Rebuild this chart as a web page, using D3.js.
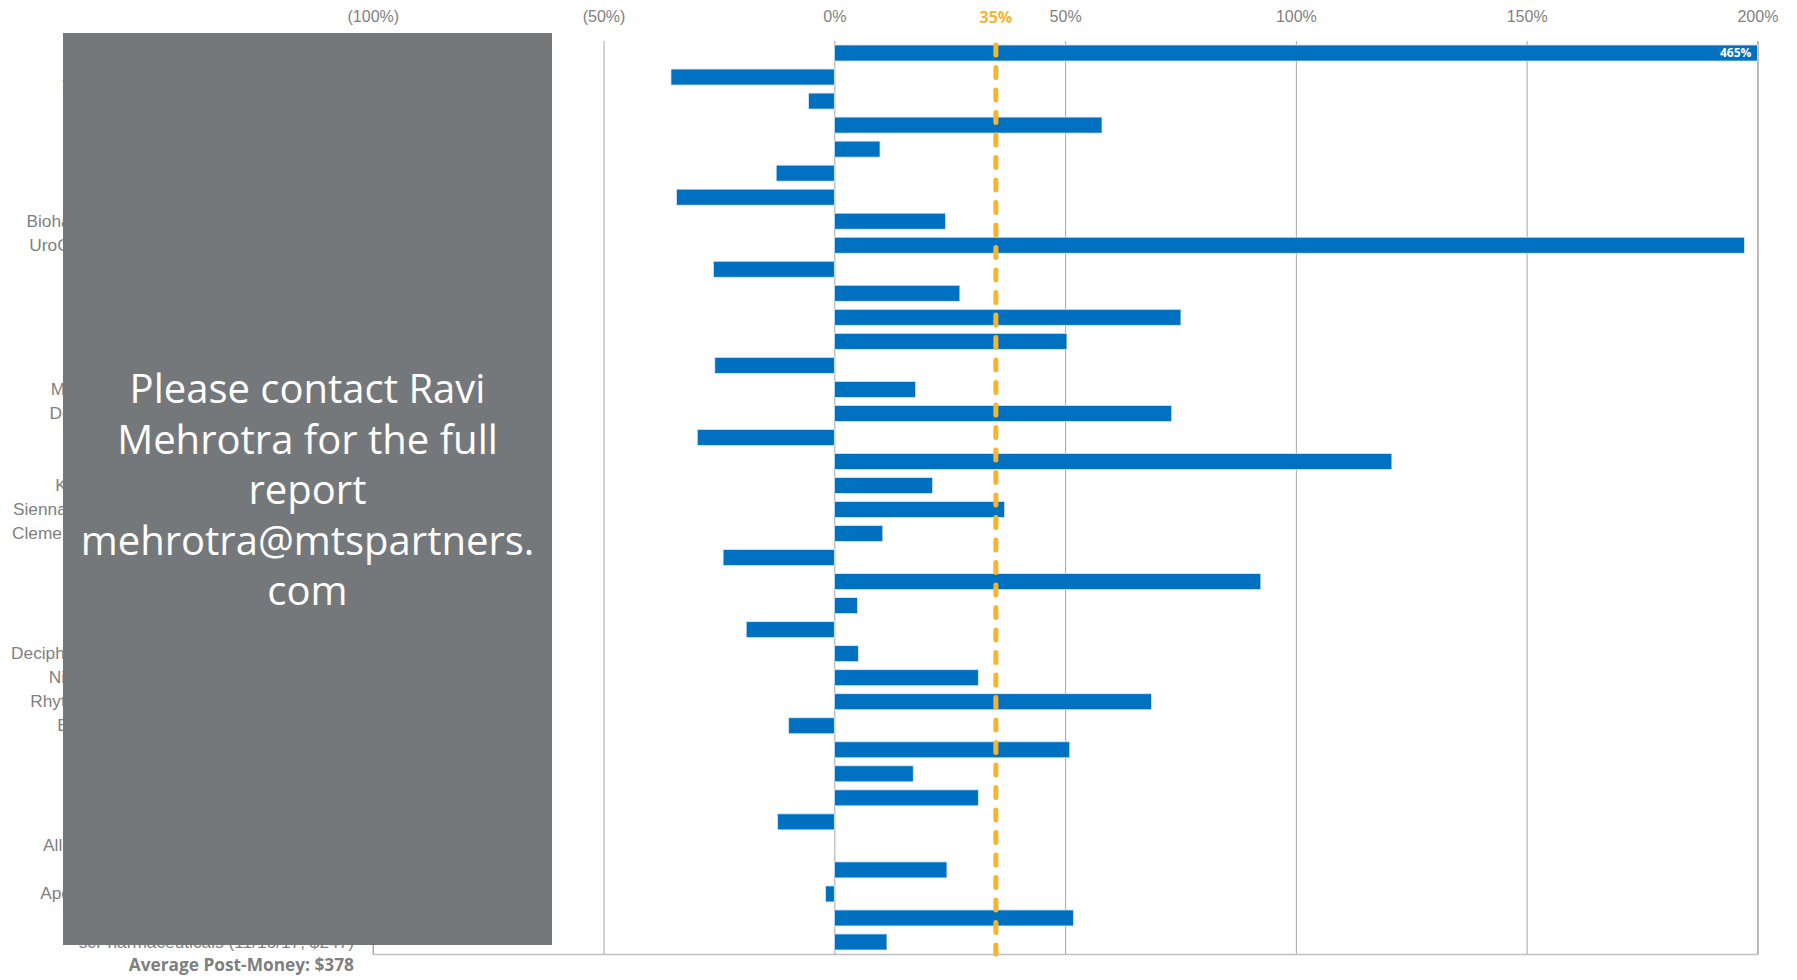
<!DOCTYPE html>
<html>
<head>
<meta charset="utf-8">
<script src="https://cdn.jsdelivr.net/npm/d3@7.9.0/dist/d3.min.js"></script>
<style>
  html, body { margin: 0; padding: 0; background: #fff; }
  svg { display: block; font-family: "Segoe UI", "Open Sans", sans-serif; }
</style>
</head>
<body>
<svg id="chart" width="1797" height="980"></svg>
<script>
// deals, top to bottom
const companies = [
  'AnaptysBio (01/26/17, $358)',
  'Jounce Therapeutics (01/27/17, $447)',
  'ObsEva (01/26/17, $344)',
  'BeyondSpring (03/09/17, $276)',
  'Tocagen (04/13/17, $243)',
  'Zymeworks (04/28/17, $461)',
  'Savara (04/28/17, $205)',
  'Biohaven Pharmaceutical (05/04/17, $705)',
  'UroGen Pharmaceuticals (05/04/17, $331)',
  'Ovid Therapeutics (05/05/17, $283)',
  'G1 Therapeutics (05/17/17, $399)',
  'Athenex (06/14/17, $805)',
  'Aerpio (06/22/17, $210)',
  'Tyme (06/23/17, $188)',
  'Mersana Therapeutics (06/28/17, $413)',
  'Dova Pharmaceuticals (06/29/17, $436)',
  'Aileron Therapeutics (06/29/17, $211)',
  'Akcea (07/14/17, $1,412)',
  'Kala Pharmaceuticals (07/20/17, $345)',
  'Sienna Biopharmaceuticals (07/27/17, $470)',
  'Clementia Pharmaceuticals (08/03/17, $434)',
  'Calyxt (07/20/17, $371)',
  'Zai Lab (09/20/17, $829)',
  'Celcuity (09/20/17, $172)',
  'Restoration (07/27/17, $131)',
  'Deciphera Pharmaceuticals (09/28/17, $668)',
  'Nightstar Therapeutics (09/28/17, $479)',
  'Rhythm Pharmaceuticals (10/05/17, $673)',
  'Eloxx Pharmaceuticals (10/12/17, $65)',
  'OptiNose (10/13/17, $734)',
  'Krystal (10/20/17, $152)',
  'InflaRx (11/08/17, $411)',
  'Spero (11/02/17, $222)',
  'Allena Pharmaceuticals (11/02/17, $290)',
  'Evoqua (11/02/17, $198)',
  'Apellis Pharmaceuticals (11/09/17, $777)',
  'Arsanis (11/16/17, $183)',
  'scPharmaceuticals (11/16/17, $247)'
];

// return since IPO (fraction)
const returns = [
  4.65, -0.354, -0.056, 0.580, 0.099, -0.126, -0.342, 0.241, 1.972, -0.262,
  0.272, 0.751, 0.504, -0.259, 0.176, 0.731, -0.297, 1.208, 0.213, 0.369,
  0.105, -0.241, 0.924, 0.050, -0.191, 0.052, 0.312, 0.687, -0.099, 0.510,
  0.171, 0.312, -0.123, 0.0, 0.244, -0.019, 0.518, 0.114
];

const tickValues = [-1, -0.5, 0, 0.5, 1, 1.5, 2];
const averageReturn = 0.35;
const averagePostMoney = 'Average Post-Money: $378';
const noticeLines = ['Please contact Ravi', 'Mehrotra for the full', 'report', 'mehrotra@mtspartners.', 'com'];

const svg = d3.select('#chart');
const plotTop = 41, plotBottom = 954, labelRight = 354;

const x = d3.scaleLinear().domain([-1, 2]).range([372.8, 1757.4]).clamp(true);
const y = d3.scaleBand().domain(companies).range([plotTop, plotBottom]).paddingInner(1 / 3).paddingOuter(1 / 6);

const pct = (v) => v < 0 ? `(${Math.round(-v * 100)}%)` : `${Math.round(v * 100)}%`;

// gridlines + bottom axis
const grid = svg.append('g')
  .attr('transform', `translate(0,${plotBottom})`)
  .call(d3.axisBottom(x).tickValues(tickValues).tickSize(-(plotBottom - plotTop)).tickFormat(''));
grid.select('.domain').attr('stroke', '#bfbfbf').attr('stroke-width', 1.5);
grid.selectAll('.tick line').attr('stroke', '#a6a6a6');

// top tick labels
const topAxis = svg.append('g')
  .attr('transform', 'translate(0,22)')
  .call(d3.axisTop(x).tickValues(tickValues).tickSize(0).tickPadding(0).tickFormat(pct));
topAxis.select('.domain').remove();
topAxis.selectAll('text').attr('fill', '#7f7f7f').attr('font-size', 16).attr('dy', 0);

// bars
svg.append('g').selectAll('rect')
  .data(returns)
  .join('rect')
  .attr('x', (d) => x(Math.min(0, d)))
  .attr('y', (d, i) => y(companies[i]))
  .attr('width', (d) => Math.abs(x(d) - x(0)))
  .attr('height', y.bandwidth())
  .attr('fill', '#0070c0')
  .attr('stroke', '#dce9f6')
  .attr('stroke-width', 0.8);

// labels for bars past the axis end
svg.append('g').selectAll('text')
  .data(returns.map((v, i) => ({ v, i })).filter((d) => d.v > x.domain()[1]))
  .join('text')
  .attr('x', x(x.domain()[1]) - 6)
  .attr('y', (d) => y(companies[d.i]) + y.bandwidth() / 2)
  .attr('dy', '0.35em')
  .attr('text-anchor', 'end')
  .attr('fill', '#fff')
  .attr('font-size', 12)
  .attr('font-weight', 'bold')
  .text((d) => pct(d.v));

// average line
svg.append('line')
  .attr('x1', x(averageReturn)).attr('x2', x(averageReturn))
  .attr('y1', plotTop + 4).attr('y2', plotBottom)
  .attr('stroke', '#f7b52c')
  .attr('stroke-width', 5)
  .attr('stroke-linecap', 'round')
  .attr('stroke-dasharray', '10,12.5');
svg.append('text')
  .attr('x', x(averageReturn)).attr('y', 23)
  .attr('text-anchor', 'middle')
  .attr('fill', '#f7b52c')
  .attr('font-size', 16)
  .attr('font-weight', 'bold')
  .text(pct(averageReturn));

// company labels
const left = svg.append('g')
  .attr('transform', `translate(${labelRight},0)`)
  .call(d3.axisLeft(y).tickSize(0).tickPadding(0));
left.select('.domain').remove();
left.selectAll('text').attr('fill', '#7f7f7f').attr('font-size', 17.3);

svg.append('text')
  .attr('x', labelRight).attr('y', 971)
  .attr('text-anchor', 'end')
  .attr('fill', '#7f7f7f')
  .attr('font-size', 17.3)
  .attr('font-weight', 'bold')
  .text(averagePostMoney);

// grey notice box
svg.append('rect')
  .attr('x', 63).attr('y', 33).attr('width', 489).attr('height', 912)
  .attr('fill', '#75787b');
svg.append('text')
  .attr('text-anchor', 'middle')
  .attr('fill', '#fff')
  .attr('font-size', 40)
  .selectAll('tspan')
  .data(noticeLines)
  .join('tspan')
  .attr('x', 307.5)
  .attr('y', (d, i) => 403 + i * 50.5)
  .text((d) => d);
</script>
</body>
</html>
